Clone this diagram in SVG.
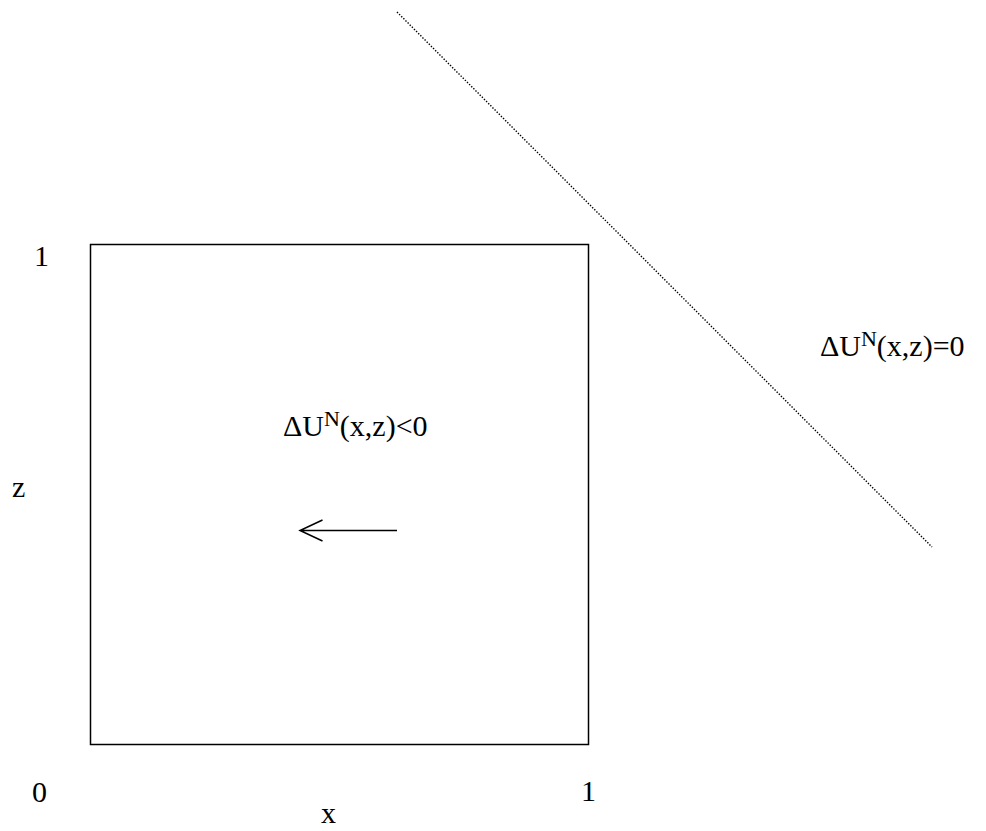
<svg xmlns="http://www.w3.org/2000/svg" width="986" height="831" viewBox="0 0 986 831">
<style>
text{font-family:"Liberation Serif","Times New Roman",serif;font-size:30px;fill:#000}
.sup{font-size:22px}
</style>
<rect width="986" height="831" fill="#fff"/>
<g id="square"><rect x="90.5" y="244.5" width="498" height="500" fill="none" stroke="#000" stroke-width="1.5"/></g>
<g id="connectors">
<line x1="397" y1="12" x2="932" y2="547" stroke="#000" stroke-width="1.4" stroke-dasharray="1.4 1.6"/>
<path d="M397 530.5H300M322.5 520L300 530.5L322.5 541" fill="none" stroke="#000" stroke-width="1.5"/>
</g>
<g id="labels">
<text x="34" y="266">1</text>
<text x="12" y="497">z</text>
<text x="32" y="802">0</text>
<text x="581" y="801">1</text>
<text x="321" y="823">x</text>
<text x="283" y="436">ΔU<tspan class="sup" dy="-10">N</tspan><tspan dy="10">(x,z)&lt;0</tspan></text>
<text x="820" y="356">ΔU<tspan class="sup" dy="-10">N</tspan><tspan dy="10">(x,z)=0</tspan></text>
</g>
</svg>
